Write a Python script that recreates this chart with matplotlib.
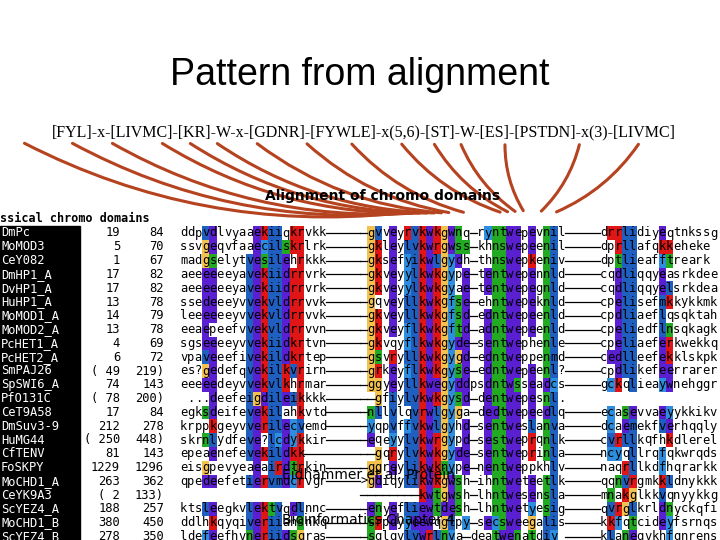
import matplotlib
matplotlib.use("Agg")
import matplotlib.pyplot as plt
from matplotlib.patches import Rectangle, FancyArrowPatch

# ===== data =====
names = ["DmPc", "MoMOD3", "CeY082", "DmHP1_A", "DvHP1_A", "HuHP1_A", "MoMOD1_A",
         "MoMOD2_A", "PcHET1_A", "PcHET2_A", "SmPAJ26", "SpSWI6_A", "PfO131C",
         "CeT9A58", "DmSuv3-9", "HuMG44", "CfTENV", "FoSKPY", "MoCHD1_A",
         "CeYK9A3", "ScYEZ4_A", "MoCHD1_B", "ScYEZ4_B"]
starts = ["19", "5", "1", "17", "17", "13", "14", "13", "4", "6", "( 49", "74", "( 78",
          "17", "212", "( 250", "81", "1229", "263", "( 2", "188", "380", "278"]
ends = ["84", "70", "67", "82", "82", "78", "79", "78", "69", "72", "219)", "143", "200)",
        "84", "278", "448)", "143", "1296", "362", "133)", "257", "450", "350"]
seq_left = ["ddpvdlvyaaekiiqkrvkk", "ssvgeqvfaaecilskrlrk", "madgselytvesilehrkkk",
            "aeeeeeeyavekiidrrvrk", "aeeeeeeyavekiidrrvrk", "ssedeeeyvvekvldrrvvk",
            "leeeeeeyvvekvldrrvvk", "eeaepeefvvekvldrrvvn", "sgseeeeyvvekiidkrtvn",
            "vpaveeefivekildkrtep", "es?gedefqvekilkvrirn", "eeeeedeyvvekvlkhrmar",
            " ...deefeigdileikkkk", "egksdeifevekilahkvtd", "krppkgeyvverilecvemd",
            "skrnlydfeve?lcdykkir", "epeaenefevekildkk   ", "eisgpevyeaeairdtrkin",
            "qpedeefetiervmdcrvgr", "                    ", "ktsleegkvlektvqdlnnc",
            "ddlhkqyqiveriiahsnkq", "ldefeefhvneriidsgras"]
seq_mid = ["-gvveyrvkwkgwnq-ryntwepevnil", "-gkleylvkwrgwss-khnswepeenil",
           "-gksefyikwlgydh-thnswepkeniv", "-gkveyylkwkgype-tentwepennld",
           "-gkveyylkwkgyae-tentwepegnld", "-gqveyllkwkgfse-ehntwepeknld",
           "-gkveyllkwkgfsd-edntwepeenld", "-gkveyflkwkgftd-adntwepeenld",
           "-gkvqyflkwkgyde-sentwephenle", "-gsvryllkwkgygd-edntweppenmd",
           "-grkeyflkwkgyse-edntwepeenl?", "-ggyeyllkwegyddpsdntwsseadcs",
           "--gfiylvkwkgysd-dentwepesnl.", "-nllvlqvrwlgyga-dedtwepeedlq",
           "-yqpvffvkwlgyhd-sentweslanva", "-eqeyylvkwrgypd-sestweprqnlk",
           "--gqrylvkwkgyde-sentweprinla", "-ggreylikwknype-nentweppkhlv",
           ">gdiqylikwkgwsh-ihntweteetlk", "--------kwtgwsh-lhntwesensla",
           "-enyefliewtdesh-lhntwetyesig", "-srpdyyeewqglpy-secsweegalis",
           "-sqlqvlvwrlnya-deatwenatdiy "]
seq_right = ["drrlidiyeqtnkssg", "dprllafqkkeheke", "dptlieafftreark", "cqdliqqyeasrkdee",
             "cqdliqqyelsrkdea", "cpelisefmkkykkmk", "cpdliaeflqsqktah", "cpeliedflnsqkagk",
             "cpeliaeferkwekkq", "cedlleefekklskpk", "cpdlikefeerrarer", "gckqlieaywnehggr",
             "", "ecasevvaeyykkikv", "dcaemekfverhqqly", "cvrllkqfhkdlerel",
             "ncyqllrqfqkwrqds", "naqrllkdfhqrarkk", "qqnvrgmkkldnykkk", "mnakglkkvqnyykkg",
             "qvrglkrldnyckqfi", "kkfqtcideyfsrnqs", "klaneqvkhfqnrens"]
pattern = "[FYL]-x-[LIVMC]-[KR]-W-x-[GDNR]-[FYWLE]-x(5,6)-[ST]-W-[ES]-[PSTDN]-x(3)-[LIVMC]"
# pattern x-positions (px) -> alignment column in the middle block
arrow_src = [22, 70, 110, 160, 188, 215, 255, 305, 350, 400, 433, 460, 505, 580, 640]
arrow_col = [5, 6, 7, 8, 9, 10, 11, 12, 14, 19, 20, 21, 22, 24, 26]

# ===== styling =====
CW = 7.32          # char width in px
X0L, X0M, X0R = 180, 360, 600
ROW0, DY = 233, 13.8
colors = {"l": "#1e5fc0", "i": "#1e5fc0", "v": "#1e5fc0", "m": "#1e5fc0", "f": "#2d8ee0",
          "c": "#2d8ee0", "y": "#2d8ee0", "w": "#5a1fd0", "k": "#e01515", "r": "#e01515",
          "e": "#5a1fd0", "d": "#5a1fd0", "g": "#f2c14e", "n": "#22aa22", "t": "#22aa22",
          "s": "#22aa22"}
left_cols = {3, 4, 9, 10, 11, 12, 13, 14, 15, 16}
mid_cols = {1, 2, 4, 6, 7, 8, 9, 10, 11, 12, 13, 14, 17, 18, 19, 20, 21, 23, 25, 26}
right_cols = {1, 2, 3, 4, 8, 9}

fig = plt.figure(figsize=(7.2, 5.4), dpi=100)
ax = fig.add_axes([0, 0, 1, 1])
ax.set_xlim(0, 720); ax.set_ylim(540, 0); ax.axis("off")

ax.text(360, 75, "Pattern from alignment", ha="center", va="center", fontsize=27,
        family="Liberation Sans")
ax.text(364, 132, pattern, ha="center", va="center", fontsize=11.5, family="Liberation Serif")

ax.text(265, 196, "Alignment of chromo domains", ha="left", va="center", fontsize=10,
        family="DejaVu Sans", weight="bold")
ax.text(0, 219, "ssical chromo domains", ha="left", va="center", fontsize=8.5,
        family="DejaVu Sans Mono", weight="bold")

ax.add_patch(Rectangle((0, 226), 80, 320, color="black"))


def draw_seq(x0, s, y, cols):
    for j, ch in enumerate(s):
        x = x0 + j * CW
        if ch == "-":
            ax.plot([x, x + CW], [y, y], color="black", lw=0.9)
            continue
        if j in cols and ch in colors:
            ax.add_patch(Rectangle((x, y - DY / 2), CW, DY, color=colors[ch], lw=0))
        ax.text(x + CW / 2, y, ch, ha="center", va="center", fontsize=8.7,
                family="DejaVu Sans Mono")


for i, nm in enumerate(names):
    y = ROW0 + i * DY
    ax.text(1, y, nm, color="white", ha="left", va="center", fontsize=8.7,
            family="DejaVu Sans Mono")
    ax.text(120, y, starts[i], ha="right", va="center", fontsize=8.7, family="DejaVu Sans Mono")
    ax.text(164, y, ends[i], ha="right", va="center", fontsize=8.7, family="DejaVu Sans Mono")
    draw_seq(X0L, seq_left[i], y, left_cols)
    if seq_left[i].strip():
        xe = X0L + len(seq_left[i].rstrip()) * CW
        ax.plot([xe, X0M], [y, y], color="black", lw=0.9)
    draw_seq(X0M, seq_mid[i], y, mid_cols)
    if seq_right[i]:
        xe = X0M + len(seq_mid[i]) * CW
        ax.plot([xe, X0R], [y, y], color="black", lw=0.9)
        draw_seq(X0R, seq_right[i], y, right_cols)

# curved arrows from the pattern to the columns
for xs, c in zip(arrow_src, arrow_col):
    xt = X0M + (c + 0.5) * CW
    rad = 0.15 if xs < xt else -0.15
    ax.add_patch(FancyArrowPatch((xs, 142), (xt, 213), arrowstyle="-",
                                 connectionstyle=f"arc3,rad={rad}", color="#b5431f", lw=2.2))

ax.text(282, 475, "Eidhammer et al. Protein", ha="left", va="center", fontsize=10,
        family="DejaVu Sans")
ax.text(282, 520, "Bioinformatics Chapter 4", ha="left", va="center", fontsize=10,
        family="DejaVu Sans")

fig.savefig("out.png", dpi=100)
